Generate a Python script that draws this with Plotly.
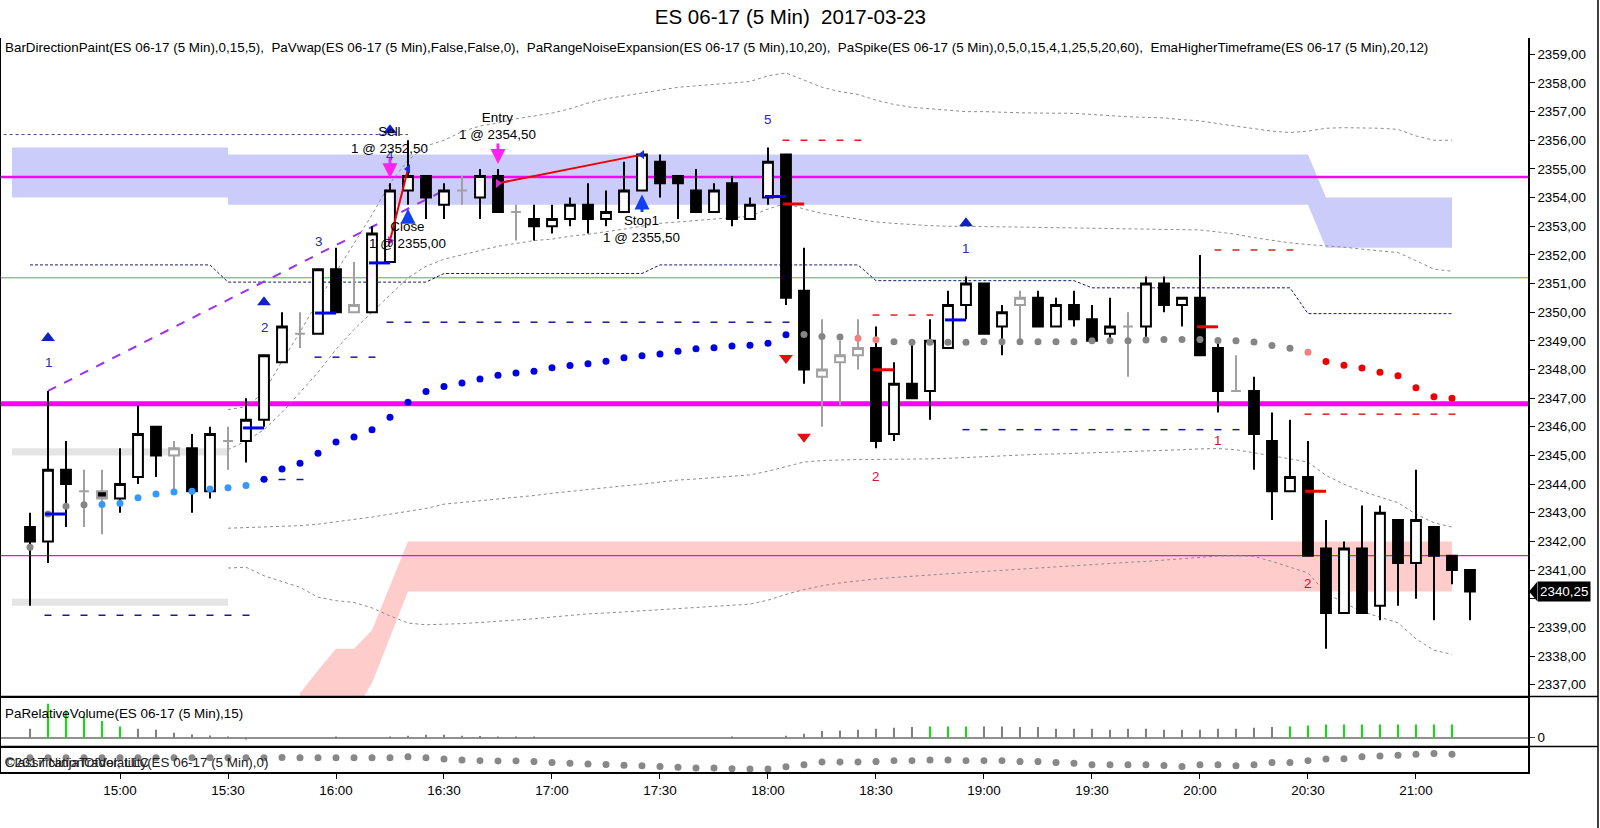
import pandas as pd
import plotly.graph_objects as go
from plotly.subplots import make_subplots

# ES 06-17, 5 minute bars, 2017-03-23 (14:35 .. 21:15)
times = pd.date_range("2017-03-23 14:35", periods=81, freq="5min")
time_ticks = ["15:00", "15:30", "16:00", "16:30", "17:00", "17:30", "18:00",
              "18:30", "19:00", "19:30", "20:00", "20:30", "21:00"]

opens = [2342.5, 2342.0, 2344.5, 2343.75, 2343.75, 2343.5, 2344.25, 2346.0, 2345.0, 2345.25,
         2343.75, 2345.5, 2345.5, 2346.25, 2348.25, 2349.25, 2349.25, 2351.5, 2350.0, 2350.0,
         2351.75, 2354.25, 2354.75, 2353.75, 2354.25, 2354.0, 2354.75, 2353.5, 2353.25, 2353.0,
         2353.25, 2353.75, 2353.25, 2353.5, 2354.25, 2355.25, 2354.75, 2354.25, 2353.5, 2354.5,
         2353.25, 2354.0, 2355.5, 2350.75, 2347.75, 2348.25, 2348.5, 2348.75, 2345.75, 2347.5,
         2347.25, 2348.75, 2350.25, 2351.0, 2349.5, 2350.25, 2350.5, 2349.5, 2350.25, 2349.75,
         2349.25, 2349.5, 2349.5, 2351.0, 2350.25, 2350.5, 2348.75, 2347.25, 2347.25, 2345.5,
         2343.75, 2344.25, 2341.75, 2339.5, 2341.75, 2339.75, 2342.75, 2341.25, 2342.5, 2341.5,
         2341.0]
highs = [2343.0, 2347.25, 2345.5, 2344.5, 2344.5, 2345.25, 2346.75, 2346.0, 2345.5, 2345.75,
         2346.0, 2346.0, 2347.0, 2348.5, 2350.0, 2350.0, 2351.5, 2352.25, 2351.75, 2353.0,
         2354.5, 2356.0, 2354.75, 2354.5, 2354.75, 2355.0, 2355.0, 2353.75, 2353.75, 2353.75,
         2354.0, 2354.5, 2354.25, 2355.25, 2355.5, 2355.5, 2354.75, 2355.0, 2354.5, 2354.75,
         2354.0, 2355.75, 2355.5, 2352.25, 2349.75, 2349.0, 2349.75, 2349.5, 2348.25, 2349.0,
         2349.75, 2350.75, 2351.25, 2351.0, 2350.25, 2350.75, 2350.75, 2350.5, 2350.75, 2350.25,
         2350.5, 2350.0, 2351.25, 2351.25, 2350.5, 2352.0, 2349.0, 2348.5, 2347.75, 2346.5,
         2346.25, 2345.5, 2342.75, 2342.0, 2343.25, 2343.25, 2342.75, 2344.5, 2342.5, 2341.5,
         2341.0]
lows = [2339.75, 2341.25, 2342.5, 2342.5, 2342.25, 2343.0, 2344.0, 2344.25, 2343.75, 2343.0,
        2343.5, 2344.5, 2344.75, 2346.0, 2348.25, 2348.75, 2349.25, 2350.0, 2350.0, 2350.0,
        2351.75, 2353.75, 2353.25, 2353.25, 2353.75, 2353.25, 2353.5, 2352.5, 2352.5, 2352.75,
        2353.0, 2352.75, 2353.0, 2353.5, 2354.25, 2354.0, 2353.25, 2353.5, 2353.5, 2353.0,
        2353.25, 2353.75, 2350.25, 2347.5, 2346.0, 2346.75, 2348.0, 2345.25, 2345.5, 2347.0,
        2346.25, 2348.75, 2349.75, 2349.25, 2348.5, 2349.0, 2349.5, 2349.5, 2349.5, 2349.0,
        2349.0, 2347.75, 2349.0, 2350.0, 2349.5, 2348.5, 2346.5, 2347.25, 2344.5, 2342.75,
        2343.75, 2341.5, 2338.25, 2339.5, 2339.5, 2339.25, 2339.75, 2340.0, 2339.25, 2340.5,
        2339.25]
closes = [2342.0, 2344.5, 2344.0, 2343.75, 2343.5, 2344.0, 2345.75, 2345.0, 2345.25, 2343.75,
          2345.75, 2345.5, 2346.25, 2348.5, 2349.5, 2349.25, 2351.5, 2350.0, 2350.25, 2352.75,
          2354.25, 2354.75, 2354.0, 2354.25, 2354.25, 2354.75, 2353.5, 2353.5, 2353.0, 2353.25,
          2353.75, 2353.25, 2353.5, 2354.25, 2355.5, 2354.5, 2354.5, 2353.5, 2354.25, 2353.25,
          2353.75, 2355.25, 2350.5, 2348.0, 2348.0, 2348.5, 2348.75, 2345.5, 2347.5, 2347.0,
          2349.0, 2350.25, 2351.0, 2349.25, 2350.0, 2350.5, 2349.5, 2350.25, 2349.75, 2349.0,
          2349.5, 2349.5, 2351.0, 2350.25, 2350.5, 2348.5, 2347.25, 2347.25, 2345.75, 2343.75,
          2344.25, 2341.5, 2339.5, 2341.75, 2339.5, 2343.0, 2341.25, 2342.75, 2341.5, 2341.0,
          2340.25]
# BarDirectionPaint: u = up, d = down, g = gray
paint = ("dudgguudgd" "uguuugudgu" "uudugudgdu" "uduuudddud" "uuddgggdud"
         "uuudugdudd" "ugududdgdd" "uddudududd" "d")

# EMA dots (bars 1..80) and their colours
ema = [2341.8, 2342.96, 2343.23, 2343.28, 2343.29, 2343.33, 2343.52, 2343.65, 2343.72, 2343.75,
       2343.83, 2343.87, 2343.95, 2344.17, 2344.53, 2344.73, 2345.08, 2345.47, 2345.64, 2345.9,
       2346.33, 2346.86, 2347.23, 2347.41, 2347.53, 2347.67, 2347.8, 2347.88, 2347.94, 2348.06,
       2348.14, 2348.2, 2348.29, 2348.41, 2348.48, 2348.54, 2348.64, 2348.72, 2348.76, 2348.82,
       2348.85, 2348.92, 2349.21, 2349.22, 2349.15, 2349.13, 2349.09, 2349.04, 2348.97, 2348.95,
       2348.95, 2348.95, 2348.95, 2348.97, 2348.97, 2348.97, 2348.97, 2348.97, 2348.97, 2349.0,
       2349.0, 2349.0, 2349.03, 2349.05, 2349.05, 2349.05, 2349.01, 2349.0, 2348.96, 2348.84,
       2348.74, 2348.6, 2348.28, 2348.15, 2348.05, 2347.9, 2347.78, 2347.36, 2347.05, 2347.0]
ema_col = ("gggg" "lllllllll" "bbbbbbbbbbbbbbbbbbbbbbbbbbbbbb" "ggg" "pp"
           "ggggggggggggggggggggggg" "p" "rrrrrrrr")

# PaRangeNoiseExpansion envelopes, bars 12..80
env_up2 = [2346.6, 2346.7, 2347.2, 2348.3, 2349.3, 2350.4, 2351.4, 2352.4, 2353.4, 2354.5,
           2355.3, 2355.8, 2356.0, 2356.3, 2356.5, 2356.6, 2356.75, 2356.85, 2356.95, 2357.1,
           2357.3, 2357.45, 2357.55, 2357.65, 2357.75, 2357.85, 2357.9, 2357.95, 2358.0, 2358.05,
           2358.25, 2358.35, 2358.1, 2357.85, 2357.7, 2357.6, 2357.4, 2357.25, 2357.15, 2357.1,
           2357.05, 2357.0, 2357.0, 2356.97, 2356.96, 2356.95, 2356.95, 2356.94, 2356.9, 2356.85,
           2356.82, 2356.8, 2356.78, 2356.72, 2356.68, 2356.58, 2356.5, 2356.4, 2356.32, 2356.27,
           2356.32, 2356.42, 2356.44, 2356.43, 2356.42, 2356.38, 2356.15, 2356.0, 2356.0]
env_up1 = [2345.2, 2345.5, 2345.9, 2346.5, 2347.2, 2347.9, 2348.7, 2349.4, 2350.0, 2350.6,
           2351.2, 2351.6, 2351.85, 2352.0, 2352.15, 2352.3, 2352.4, 2352.5, 2352.55, 2352.65,
           2352.72, 2352.8, 2352.9, 2353.0, 2353.1, 2353.15, 2353.2, 2353.25, 2353.3, 2353.35,
           2353.6, 2353.8, 2353.6, 2353.45, 2353.35, 2353.25, 2353.15, 2353.1, 2353.05, 2353.02,
           2353.0, 2353.0, 2353.0, 2352.98, 2352.97, 2352.96, 2352.95, 2352.94, 2352.93, 2352.92,
           2352.91, 2352.9, 2352.89, 2352.88, 2352.87, 2352.8, 2352.72, 2352.6, 2352.5, 2352.42,
           2352.36, 2352.32, 2352.27, 2352.2, 2352.15, 2352.08, 2351.8, 2351.5, 2351.43]
env_lo1 = [2342.46, 2342.48, 2342.5, 2342.52, 2342.55, 2342.6, 2342.68, 2342.76, 2342.85, 2342.95,
           2343.04, 2343.15, 2343.3, 2343.36, 2343.42, 2343.47, 2343.52, 2343.6, 2343.68, 2343.75,
           2343.82, 2343.88, 2343.94, 2344.0, 2344.08, 2344.14, 2344.18, 2344.22, 2344.27, 2344.32,
           2344.45, 2344.6, 2344.77, 2344.82, 2344.85, 2344.86, 2344.86, 2344.86, 2344.86, 2344.88,
           2344.9, 2344.93, 2344.96, 2345.0, 2345.02, 2345.04, 2345.05, 2345.07, 2345.08, 2345.1,
           2345.12, 2345.15, 2345.18, 2345.2, 2345.23, 2345.24, 2345.2, 2345.1, 2345.0, 2344.88,
           2344.77, 2344.3, 2344.0, 2343.75, 2343.55, 2343.35, 2342.95, 2342.65, 2342.5]
env_lo2 = [2341.07, 2341.1, 2340.8, 2340.6, 2340.4, 2340.05, 2339.93, 2339.87, 2339.68, 2339.4,
           2339.15, 2339.09, 2339.1, 2339.13, 2339.17, 2339.21, 2339.25, 2339.3, 2339.36, 2339.42,
           2339.47, 2339.5, 2339.54, 2339.57, 2339.61, 2339.65, 2339.69, 2339.73, 2339.77, 2339.81,
           2339.95, 2340.15, 2340.32, 2340.45, 2340.55, 2340.63, 2340.69, 2340.74, 2340.79, 2340.83,
           2340.87, 2340.91, 2340.95, 2341.0, 2341.05, 2341.09, 2341.13, 2341.17, 2341.2, 2341.24,
           2341.27, 2341.3, 2341.35, 2341.4, 2341.45, 2341.49, 2341.5, 2341.48, 2341.3, 2341.1,
           2340.9, 2340.2, 2339.85, 2339.55, 2339.35, 2339.16, 2338.6, 2338.2, 2338.06]

# EmaHigherTimeframe (60 min steps), bars 1..80
ema_htf = [2351.65, 2351.65, 2351.65, 2351.65, 2351.65, 2351.65, 2351.65, 2351.65, 2351.65, 2351.65,
           2351.65, 2351.05, 2351.05, 2351.05, 2351.05, 2351.05, 2351.05, 2351.05, 2351.05, 2351.05,
           2351.05, 2351.05, 2351.05, 2351.35, 2351.35, 2351.35, 2351.35, 2351.35, 2351.35, 2351.35,
           2351.35, 2351.35, 2351.35, 2351.35, 2351.35, 2351.65, 2351.65, 2351.65, 2351.65, 2351.65,
           2351.65, 2351.65, 2351.65, 2351.65, 2351.65, 2351.65, 2351.65, 2351.1, 2351.1, 2351.1,
           2351.1, 2351.1, 2351.1, 2351.1, 2351.1, 2351.1, 2351.1, 2351.1, 2351.1, 2350.85,
           2350.85, 2350.85, 2350.85, 2350.85, 2350.85, 2350.85, 2350.85, 2350.85, 2350.85, 2350.85,
           2350.85, 2349.95, 2349.95, 2349.95, 2349.95, 2349.95, 2349.95, 2349.95, 2349.95, 2349.95]

# zones (time, upper, lower)
blue1_t = ["14:30", "15:30"]
blue1_hi = [2355.75, 2355.75]
blue1_lo = [2354.0, 2354.0]
blue2_t = ["15:30", "20:30", "20:35", "21:10"]
blue2_hi = [2355.5, 2355.5, 2354.0, 2354.0]
blue2_lo = [2353.75, 2353.75, 2352.25, 2352.25]
pink_t = ["15:50", "15:55", "16:00", "16:05", "16:10", "16:15", "16:20", "21:10"]
pink_hi = [2336.7, 2337.5, 2338.25, 2338.25, 2338.9, 2340.45, 2342.0, 2342.0]
pink_lo = [2336.0, 2336.0, 2336.0, 2336.0, 2337.05, 2338.65, 2340.25, 2340.25]
gray_t = ["14:30", "15:30"]
gray_hi = [[2345.25, 2345.25], [2340.0, 2340.0]]
gray_lo = [[2345.0, 2345.0], [2339.75, 2339.75]]

# horizontal levels
level_thick = 2346.8
level_mid = 2354.72
level_thin = 2341.5
level_green = 2351.2
level_dot = 2356.2
level_dot_t = ["14:26", "16:20"]

# PaSpike dashed levels: price, first bar, last bar
navy_dash = [(2339.42, "14:40", "15:35"), (2344.16, "15:40", "15:50"), (2348.43, "15:55", "16:10"),
             (2349.65, "16:15", "18:05"), (2345.9, "18:55", "20:10")]
red_dash = [(2356.0, "18:05", "18:25"), (2349.9, "18:30", "18:45"),
            (2352.17, "20:05", "20:25"), (2346.44, "20:30", "21:10")]

# PaVwap ticks
vwap_blue_t = ["14:40", "15:35", "15:55", "16:10", "18:00", "18:50"]
vwap_blue = [2342.96, 2345.96, 2349.97, 2351.72, 2354.04, 2349.73]
vwap_red_t = ["18:05", "18:30", "20:00", "20:30"]
vwap_red = [2353.78, 2347.99, 2349.49, 2343.75]

# spikes
spike_up_t = ["14:40", "15:40", "16:15", "18:55"]
spike_up_lbl_t = ["14:40", "15:40", "15:55", "16:15", "18:00", "18:55"]
spike_up_lbl = ["1", "2", "3", "4", "5", "1"]
spike_dn_t = ["18:05", "18:10"]
spike_dn_lbl_t = ["18:30", "20:05", "20:30"]
spike_dn_lbl = ["2", "1", "2"]

# trades
trade_t = ["16:15", "16:20", "16:45", "17:25"]
trade_name = ["Sell", "Close", "Entry", "Stop1"]
trade_price = [2352.50, 2355.00, 2354.50, 2355.50]
trend_t = ["14:40", "16:30"]
trend_p = [2347.25, 2354.25]

# PaRelativeVolume (bars 1..80) and colours
rel_vol = [27, 102, 82, 64, 50, 34, 27, 24, 15, 10, 7, 2, -3, 0, 0, 0, 0, 2, 0, 0,
           4, 6, 9, 9, 6, 5, 4, 3, 3, 0, 0, 0, 0, 0, 0, 0, 0, 0, 0, 2,
           0, 0, 6, 12, 20, 22, 24, 27, 30, 32, 34, 34, 34, 34, 34, 32, 32, 27, 27, 27,
           24, 27, 27, 24, 24, 24, 27, 27, 30, 32, 34, 37, 40, 40, 40, 40, 40, 40, 40, 40]
vol_green = [2, 3, 4, 5, 6, 51, 52, 53, 71, 72, 73, 74, 75, 76, 77, 78, 79, 80]
# ClassificationOfVolatility (bars 1..80)
cov = [47, 47, 47, 47, 47, 47, 47, 47, 47, 47, 47, 47, 47, 47, 48, 47, 47, 47, 47, 47,
       47, 50, 47, 43, 40, 38, 37, 37, 35, 32, 30, 28, 26, 24, 22, 20, 18, 15, 15, 13,
       12, 12, 19, 25, 34, 34, 34, 35, 38, 38, 40, 40, 38, 38, 38, 35, 35, 32, 30, 25,
       25, 25, 25, 23, 20, 25, 25, 22, 25, 32, 32, 38, 43, 44, 50, 52, 55, 58, 60, 58]

FONT = "Liberation Sans, Arial, sans-serif"
FS = 13.4
day = "2017-03-23 "
T = lambda s: pd.Timestamp(day + s)
x0, x1 = T("14:26:40"), T("21:31:07")
PRICE_RANGE = [2336.59, 2359.57]
PRICE_DOM = [0.103, 1]
VOL_DOM = [0.0349, 0.103]
COV_DOM = [0, 0.0349]

fig = make_subplots(rows=3, cols=1, shared_xaxes=True, vertical_spacing=0)

def base(tr):
    fig.add_trace(tr, row=1, col=1)

def top(tr):
    # overlay axis: drawn above everything on the base price axis
    tr.update(xaxis="x", yaxis="y4")
    fig.add_trace(tr)

def band(ts, hi, lo, color):
    xs = [T(t) for t in ts]
    base(go.Scatter(x=xs + xs[::-1], y=list(hi) + list(lo)[::-1], fill="toself",
                    fillcolor=color, line=dict(width=0), mode="lines",
                    hoverinfo="skip", showlegend=False))

for hi, lo in zip(gray_hi, gray_lo):
    band(gray_t, hi, lo, "rgb(228,228,228)")
band(blue1_t, blue1_hi, blue1_lo, "rgb(204,204,250)")
band(blue2_t, blue2_hi, blue2_lo, "rgb(204,204,250)")
band(pink_t, pink_hi, pink_lo, "rgb(255,204,204)")

def hline(y, color, width, dash="solid", xs=(x0, x1)):
    base(go.Scatter(x=list(xs), y=[y, y], mode="lines",
                    line=dict(color=color, width=width, dash=dash),
                    hoverinfo="skip", showlegend=False))

hline(level_green, "#22CC22", 1)
hline(level_thin, "#CC22CC", 1.2)
hline(level_mid, "#FF00FF", 2.5)
hline(level_thick, "#FF00FF", 5)
hline(level_dot, "#4040A0", 1, "dot", [T(t) for t in level_dot_t])

env_t = times[11:80]
for vals in (env_up2, env_up1, env_lo1, env_lo2):
    base(go.Scatter(x=env_t, y=vals, mode="lines",
                    line=dict(color="#8C8C8C", width=1, dash="dot"),
                    hoverinfo="skip", showlegend=False))

base(go.Scatter(x=times[:80], y=ema_htf, mode="lines",
                line=dict(color="#1A1A70", width=1, dash="3px,2px"),
                hoverinfo="skip", showlegend=False))

for dashes, color in ((navy_dash, "#1A1A90"), (red_dash, "#DD2020")):
    for price, a, b in dashes:
        xs = [t for t in times if T(a) <= t <= T(b)]
        base(go.Scatter(x=xs, y=[price] * len(xs), mode="markers",
                        marker=dict(symbol="line-ew", size=5, line=dict(color=color, width=1.5)),
                        hoverinfo="skip", showlegend=False))

base(go.Scatter(x=[T(t) for t in trend_t], y=trend_p, mode="lines",
                line=dict(color="#9933EE", width=2, dash="dash"),
                hoverinfo="skip", showlegend=False))

# candles (overlay axis so they sit above zones and level lines)
main = [i for i, p in enumerate(paint) if p != "g"]
grey = [i for i, p in enumerate(paint) if p == "g"]
for idx, lc in ((main, "black"), (grey, "#A0A0A0")):
    top(go.Candlestick(
        x=[times[i] for i in idx], open=[opens[i] for i in idx], high=[highs[i] for i in idx],
        low=[lows[i] for i in idx], close=[closes[i] for i in idx],
        increasing=dict(line=dict(color=lc, width=2), fillcolor="white"),
        decreasing=dict(line=dict(color=lc, width=2), fillcolor="black"),
        whiskerwidth=0, hoverinfo="skip", showlegend=False))

# trade lines
for a, b in ((0, 1), (2, 3)):
    top(go.Scatter(x=[T(trade_t[a]), T(trade_t[b])], y=[trade_price[a], trade_price[b]],
                   mode="lines", line=dict(color="#EE0000", width=2), hoverinfo="skip",
                   showlegend=False))

# EMA dots
dot_colors = {"g": "#858585", "l": "#3399FF", "b": "#0000E6", "p": "#F08080", "r": "#EE0000"}
top(go.Scatter(x=times[:80], y=ema, mode="markers",
               marker=dict(size=7, color=[dot_colors[c] for c in ema_col]),
               hoverinfo="skip", showlegend=False))

# vwap ticks
shift = pd.Timedelta(minutes=2.1)
for ts, vals, color in ((vwap_blue_t, vwap_blue, "#0000EE"), (vwap_red_t, vwap_red, "#EE0000")):
    top(go.Scatter(x=[T(t) + shift for t in ts], y=vals, mode="markers",
                   marker=dict(symbol="line-ew", size=15, line=dict(color=color, width=3)),
                   hoverinfo="skip", showlegend=False))

# spike triangles
pos = {t: i for i, t in enumerate(times)}
gap = 1.85
top(go.Scatter(x=[T(t) for t in spike_up_t], y=[highs[pos[T(t)]] + gap for t in spike_up_t],
               mode="markers", marker=dict(symbol="triangle-up", size=12, color="#1020C8"),
               hoverinfo="skip", showlegend=False))
top(go.Scatter(x=[T(t) for t in spike_dn_t], y=[lows[pos[T(t)]] - gap for t in spike_dn_t],
               mode="markers", marker=dict(symbol="triangle-down", size=12, color="#E01010"),
               hoverinfo="skip", showlegend=False))

# trade fill markers
top(go.Scatter(x=[T(trade_t[1]), T(trade_t[3])], y=[trade_price[1], trade_price[3]],
               mode="markers", marker=dict(symbol="triangle-left", size=8, color="#1030E0"),
               hoverinfo="skip", showlegend=False))
top(go.Scatter(x=[T(trade_t[0]), T(trade_t[2])], y=[trade_price[0], trade_price[2]],
               mode="markers", marker=dict(symbol="triangle-right", size=8, color="#E020E0"),
               hoverinfo="skip", showlegend=False))

# volume panel
fig.add_trace(go.Bar(x=times[:80], y=rel_vol, width=34000,
                     marker=dict(color=["#11DD11" if i + 1 in vol_green else "#808080"
                                        for i in range(80)], line=dict(width=0)),
                     hoverinfo="skip", showlegend=False), row=2, col=1)
# volatility panel
fig.add_trace(go.Scatter(x=times[:80], y=cov, mode="markers",
                         marker=dict(size=7, color="#888888"),
                         hoverinfo="skip", showlegend=False), row=3, col=1)

ann = []
for t, lbl in zip(spike_up_lbl_t, spike_up_lbl):
    ann.append(dict(x=T(t), y=highs[pos[T(t)]], text=lbl, showarrow=False, yshift=28,
                    font=dict(color="#2828C0", size=FS), xref="x", yref="y"))
for t, lbl in zip(spike_dn_lbl_t, spike_dn_lbl):
    ann.append(dict(x=T(t), y=lows[pos[T(t)]], text=lbl, showarrow=False, yshift=-28,
                    font=dict(color="#D01030", size=FS), xref="x", yref="y"))

for t, name, price in zip(trade_t, trade_name, trade_price):
    i = pos[T(t)]
    label = f"{name}<br>1 @ {price:.2f}".replace(".", ",")
    if name in ("Sell", "Entry"):
        ann.append(dict(x=T(t), y=highs[i], text=label, showarrow=True, ax=0, ay=-43,
                        arrowhead=2, arrowsize=1, arrowwidth=3, arrowcolor="#FF22EE", standoff=5,
                        font=dict(size=FS, color="black"), xref="x", yref="y"))
    else:
        ann.append(dict(x=T(t), y=lows[i], text=label, showarrow=True, ax=0,
                        ay=30 if name == "Close" else 39,
                        arrowhead=2, arrowsize=1, arrowwidth=3, arrowcolor="#1040F0", standoff=4,
                        font=dict(size=FS, color="black"), xref="x", yref="y"))

indicators = ("BarDirectionPaint(ES 06-17 (5 Min),0,15,5),  PaVwap(ES 06-17 (5 Min),False,False,0),  "
              "PaRangeNoiseExpansion(ES 06-17 (5 Min),10,20),  PaSpike(ES 06-17 (5 Min),0,5,0,15,4,1,25,5,20,60),  "
              "EmaHigherTimeframe(ES 06-17 (5 Min),20,12)")
ann.append(dict(x=0.002, y=0.9877, xref="paper", yref="paper", xanchor="left", yanchor="middle",
                showarrow=False, font=dict(size=FS, color="black"),
                text=indicators.replace("  ", "\u00a0 ")))
ann.append(dict(x=0.002, y=0.0794, xref="paper", yref="paper", xanchor="left", yanchor="middle",
                showarrow=False, font=dict(size=FS, color="black"),
                text="PaRelativeVolume(ES 06-17 (5 Min),15)"))
for txt in ("ClassificationOfVolatility(ES 06-17 (5 Min),0)", "©2017 NinjaTrader, LLC"):
    ann.append(dict(x=0.002, y=0.0127, xref="paper", yref="paper", xanchor="left", yanchor="middle",
                    showarrow=False, font=dict(size=FS, color="#202020"), text=txt))
ann.append(dict(x=1, y=closes[-1], xref="paper", yref="y", xanchor="left", yanchor="middle",
                xshift=9, showarrow=False, bgcolor="black", borderpad=2,
                font=dict(size=FS, color="white"), text=f"{closes[-1]:.2f}".replace(".", ",")))

# price-marker pointer, panel separators and window frame
px_w = 1528.0
sh = [dict(type="path", xref="paper", yref="y",
           path=f"M 1.0007 {closes[-1]} L {1 + 9 / px_w} {closes[-1] + 0.33} "
                f"L {1 + 9 / px_w} {closes[-1] - 0.33} Z",
           fillcolor="black", line=dict(width=0))]
for yb in (PRICE_DOM[0], VOL_DOM[0]):
    sh.append(dict(type="line", xref="paper", yref="paper", x0=0, x1=1598 / px_w, y0=yb, y1=yb,
                   line=dict(color="black", width=1.5)))
sh.append(dict(type="line", xref="paper", yref="paper", x0=1598 / px_w, x1=1598 / px_w,
               y0=-0.08, y1=1.06, line=dict(color="black", width=1.5)))
sh.append(dict(type="line", xref="paper", yref="paper", x0=0, x1=0, y0=0, y1=1,
               line=dict(color="black", width=2)))

ticks = list(range(2337, 2360))
fig.update_layout(
    width=1600, height=828, margin=dict(l=0, r=72, t=38, b=56),
    paper_bgcolor="white", plot_bgcolor="white",
    font=dict(family=FONT, size=FS, color="black"),
    title=dict(text="ES 06-17 (5 Min)\u00a0 2017-03-23", x=0.494, xanchor="center",
               y=1 - 17 / 828, yanchor="middle", font=dict(size=20.5, color="black")),
    annotations=ann, shapes=sh, hovermode=False, boxgap=0.22,
    yaxis=dict(domain=PRICE_DOM, range=PRICE_RANGE, side="right",
               tickvals=ticks, ticktext=["" if v == 2340 else f"{v},00" for v in ticks],
               ticks="outside", ticklen=5, tickcolor="black", showline=True, linecolor="black",
               linewidth=1.5, showgrid=False, zeroline=False),
    yaxis4=dict(domain=PRICE_DOM, range=PRICE_RANGE, overlaying="y", anchor="x", side="right",
                visible=False, showgrid=False, zeroline=False),
    yaxis2=dict(domain=VOL_DOM, range=[-26, 124], side="right", tickvals=[0], ticktext=["0"],
                ticks="outside", ticklen=5, showline=True, linecolor="black", linewidth=1.5,
                showgrid=False, zeroline=True, zerolinecolor="#909090", zerolinewidth=1.5),
    yaxis3=dict(domain=COV_DOM, range=[3, 82], side="right", showticklabels=False, ticks="",
                showline=True, linecolor="black", linewidth=1.5, showgrid=False, zeroline=False),
)
for r in (1, 2, 3):
    fig.update_xaxes(row=r, col=1, range=[x0, x1], showgrid=False, showline=True,
                     linecolor="black", linewidth=1.5, rangeslider_visible=False,
                     showticklabels=(r == 3), ticks="outside" if r == 3 else "")
fig.update_xaxes(row=3, col=1, tickvals=[T(t) for t in time_ticks], ticktext=time_ticks,
                 ticklen=5, tickcolor="black", tickfont=dict(size=FS))

fig.write_html("out.html", config={"displayModeBar": False},
               post_script="document.body.style.margin='0px';")
